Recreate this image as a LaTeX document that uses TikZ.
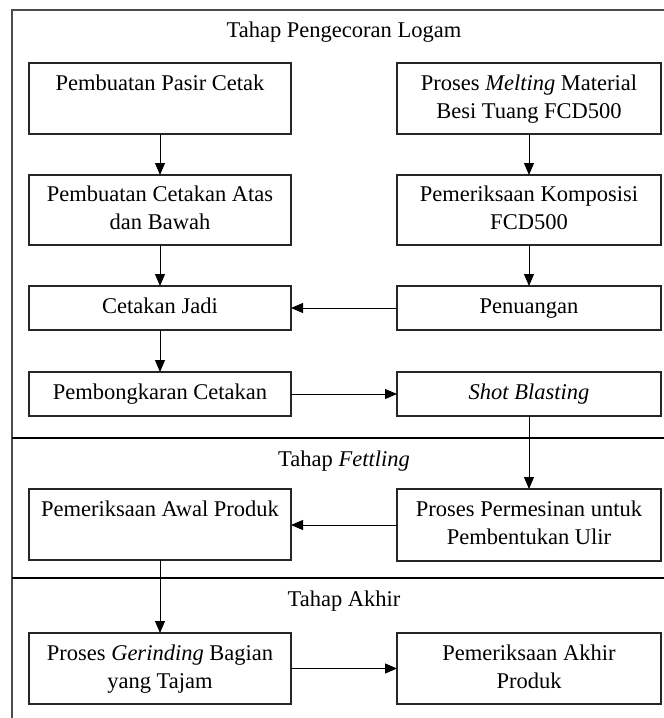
\documentclass[tikz,border=0pt]{standalone}
\usepackage{fontspec}
\setmainfont{Liberation Serif}
\usetikzlibrary{arrows.meta}
\begin{document}
\begin{tikzpicture}[x=1pt,y=-1pt,
  txt/.style={font=\fontsize{22.5}{28}\selectfont},
  procbox/.style={txt,draw=black!85,line width=1.1pt,rectangle,inner sep=0pt,outer sep=0pt,align=center},
  lbox/.style={procbox,minimum width=262pt},
  rbox/.style={procbox,minimum width=264pt},
  flow/.style={line width=0.9pt,-{Triangle[length=12pt,width=10pt]}},
  frame/.style={line width=1.3pt,draw=black!70},
  divider/.style={line width=1.2pt,draw=black}]
\useasboundingbox (0,0) rectangle (664,718);
\fill[white] (0,0) rectangle (664,718);
% frame
\coordinate (ftr) at (664,10);
\coordinate (ftl) at (12,10);
\coordinate (fbl) at (12,718);
\coordinate (d1l) at (12,438);
\coordinate (d1r) at (664,438);
\coordinate (d2l) at (12,578);
\coordinate (d2r) at (664,578);
\draw[frame] (ftr) -- (ftl) -- (fbl);
\draw[divider] (d1l) -- (d1r);
\draw[divider] (d2l) -- (d2r);
% titles
\node[txt,anchor=base] (t1) at (344,37) {Tahap Pengecoran Logam};
\node[txt,anchor=base] (t2) at (344,466) {Tahap \textit{Fettling}};
\node[txt,anchor=base] (t3) at (344,606) {Tahap Akhir};
% boxes
\node[lbox,minimum height=71pt] (b1) at (160,98.5) {\strut Pembuatan Pasir Cetak\\\strut};
\node[rbox,minimum height=71pt] (b2) at (529,98.5) {\strut Proses \textit{Melting} Material\\\strut Besi Tuang FCD500};
\node[lbox,minimum height=70pt] (b3) at (160,210) {\strut Pembuatan Cetakan Atas\\\strut dan Bawah};
\node[rbox,minimum height=70pt] (b4) at (529,210) {\strut Pemeriksaan Komposisi\\\strut FCD500};
\node[lbox,minimum height=44pt] (b5) at (160,308) {\strut Cetakan Jadi};
\node[rbox,minimum height=44pt] (b6) at (529,308) {\strut Penuangan};
\node[lbox,minimum height=44pt] (b7) at (160,394) {\strut Pembongkaran Cetakan};
\node[rbox,minimum height=44pt] (b8) at (529,394) {\strut\textit{Shot Blasting}};
\node[lbox,minimum height=71pt] (b9) at (160,524.5) {\strut Pemeriksaan Awal Produk\\\strut};
\node[rbox,minimum height=72pt] (b10) at (529,525) {\strut Proses Permesinan untuk\\\strut Pembentukan Ulir};
\node[lbox,minimum height=71pt] (b11) at (160,668.5) {\strut Proses \textit{Gerinding} Bagian\\\strut yang Tajam};
\node[rbox,minimum height=71pt] (b12) at (529,668.5) {\strut Pemeriksaan Akhir\\\strut Produk};
% connectors
\draw[flow] (b1) -- (b3);
\draw[flow] (b2) -- (b4);
\draw[flow] (b3) -- (b5);
\draw[flow] (b4) -- (b6);
\draw[flow] (b6) -- (b5);
\draw[flow] (b5) -- (b7);
\draw[flow] (b7) -- (b8);
\draw[flow] (b8) -- (b10);
\draw[flow] (b10.west) -- (b9.east |- b10.west);
\draw[flow] (b9) -- (b11);
\draw[flow] (b11) -- (b12);
\end{tikzpicture}
\end{document}
